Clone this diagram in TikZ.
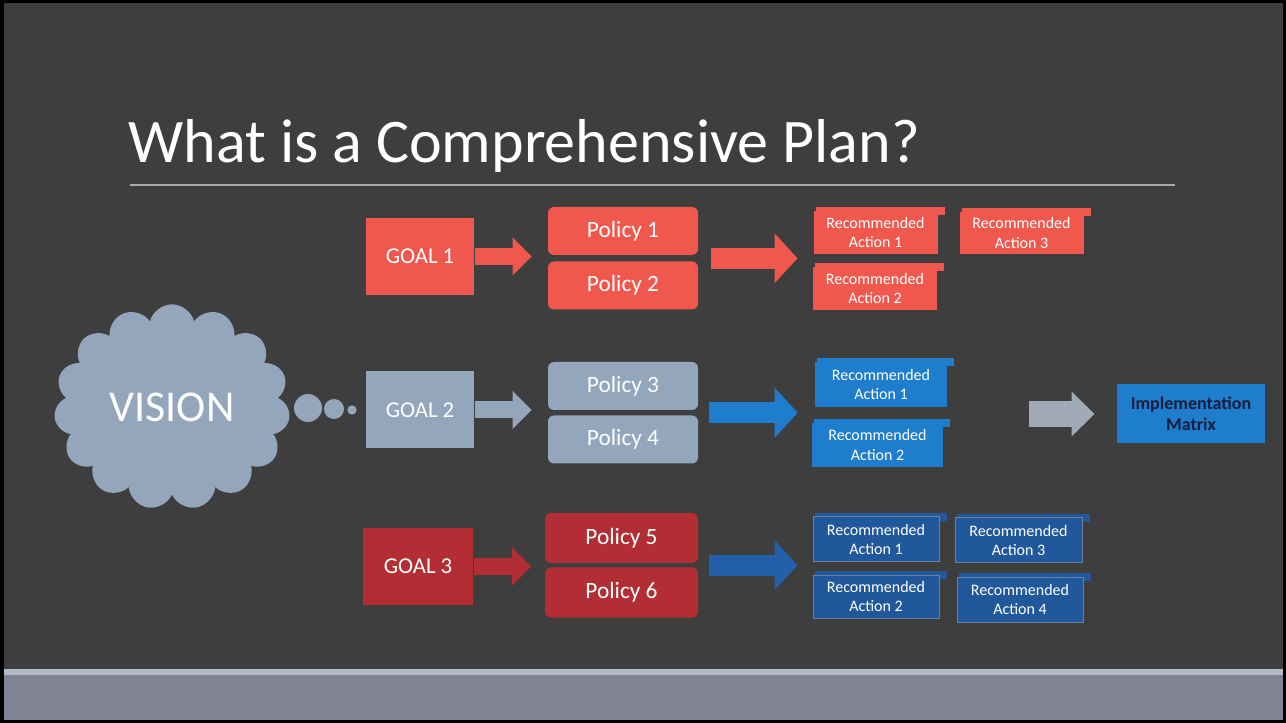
\documentclass[tikz,border=0pt]{standalone}
\usepackage{fontspec}
\setmainfont{Carlito}
\usetikzlibrary{shapes.symbols,arrows.meta,calc}

\definecolor{slidebg}{RGB}{62,62,62}
\definecolor{bandgray}{RGB}{128,131,148}
\definecolor{bandline}{RGB}{178,186,196}
\definecolor{ruleline}{RGB}{168,168,168}
\definecolor{goalred}{RGB}{240,88,78}
\definecolor{goalsteel}{RGB}{148,166,188}
\definecolor{goaldark}{RGB}{178,46,52}
\definecolor{actblue}{RGB}{30,125,205}
\definecolor{actnavy}{RGB}{32,88,155}
\definecolor{navyedge}{RGB}{110,130,160}
\definecolor{arrownavy}{RGB}{35,95,170}
\definecolor{arrowgray}{RGB}{160,170,182}
\definecolor{matrixtext}{RGB}{20,30,60}

\tikzset{every picture/.style={line width=0.75pt}}
\tikzset{
  goalbox/.style={rectangle, minimum width=81pt, minimum height=57.75pt, inner sep=0pt,
    text=white, font=\fontsize{17}{20}\selectfont},
  polbox/.style={rectangle, rounded corners=4.5pt, minimum width=112.5pt, minimum height=36pt,
    inner sep=0pt, text=white, font=\fontsize{17.5}{20}\selectfont},
  actbox/.style={rectangle, minimum width=93pt, minimum height=32pt, inner sep=0pt,
    align=center, text=white, font=\fontsize{12}{14.5}\selectfont},
  smallarrow/.style={line width=12.75pt, -{Triangle[length=14.25pt,width=28.5pt,line width=0pt]}},
  bigarrow/.style={line width=15.75pt, -{Triangle[length=17.25pt,width=37.5pt,line width=0pt]}},
  grayarrow/.style={line width=19.5pt, arrowgray, -{Triangle[length=17.25pt,width=33.75pt,line width=0pt]}},
  bubble/.style={circle, fill=goalsteel, inner sep=0pt}
}

\begin{document}
\begin{tikzpicture}[x=0.75pt,y=0.75pt,yscale=-1,xscale=1]
%Slide background
\fill[black] (0,0) rectangle (1286,723);
\fill[slidebg] (4,3) rectangle (1283,720);
\fill[bandgray] (4,669) rectangle (1283,720);
\fill[bandline] (4,669) rectangle (1283,675);

% Title
\node (title) [anchor=base west, inner sep=0pt, text=white, font=\fontsize{46.5}{50}\selectfont] at (128,163) {What is a Comprehensive Plan?};
\draw[ruleline, line width=1.5pt] (130,185) -- (1175,185);

%Vision cloud and bubbles
\node (vision) [cloud, cloud puffs=15, aspect=1.1, fill=goalsteel, minimum width=177pt, minimum height=154pt,
  inner sep=0pt, text=white, font=\fontsize{33}{36}\selectfont] at (172,407) {VISION};
\node (b1) [bubble, minimum size=21pt] at (308,408) {};
\node (b2) [bubble, minimum size=15pt] at (334,409) {};
\node (b3) [bubble, minimum size=7pt] at (352,410) {};

%Goals
\node (g1) [goalbox, fill=goalred] at (420,256.5) {GOAL 1};
\node (g2) [goalbox, fill=goalsteel] at (420,410) {GOAL 2};
\node (g3) [goalbox, fill=goaldark, minimum width=83pt] at (418,566.5) {GOAL 3};

%Policies
\node (p1) [polbox, fill=goalred] at (623,231) {Policy 1};
\node (p2) [polbox, fill=goalred] at (623,285.5) {Policy 2};
\node (p3) [polbox, fill=goalsteel] at (623,386) {Policy 3};
\node (p4) [polbox, fill=goalsteel] at (623,439.5) {Policy 4};
\node (p5) [polbox, fill=goaldark, minimum width=114.75pt, minimum height=37.5pt] at (621.5,538) {Policy 5};
\node (p6) [polbox, fill=goaldark, minimum width=114.75pt, minimum height=37.5pt] at (621.5,592.5) {Policy 6};

%Scroll rims (behind the action boxes)
\fill[goalred] (816,207) rectangle (945,215);
\fill[goalred] (815,263) rectangle (944,271);
\fill[goalred] (962,208) rectangle (1091,216);
\fill[actblue] (817,358) rectangle (954,366);
\fill[actblue] (814,419) rectangle (950,427);
\fill[actnavy] (815,513) rectangle (947,521);
\fill[actnavy] (815,571) rectangle (947,579);
\fill[actnavy] (957,514) rectangle (1090,522);
\fill[actnavy] (959,573) rectangle (1091,581);

%Recommended actions, goal 1
\node (ra1) [actbox, fill=goalred] at (875.5,232.5) {Recommended\\Action 1};
\node (ra2) [actbox, fill=goalred] at (875,288.5) {Recommended\\Action 2};
\node (ra3) [actbox, fill=goalred] at (1021.5,233) {Recommended\\Action 3};
%Recommended actions, goal 2
\node (ba1) [actbox, fill=actblue, minimum width=99pt, minimum height=34pt] at (881,384.5) {Recommended\\Action 1};
\node (ba2) [actbox, fill=actblue, minimum width=98pt, minimum height=33pt] at (877.5,445) {Recommended\\Action 2};
%Recommended actions, goal 3
\node (da1) [actbox, fill=actnavy, draw=navyedge, minimum width=94.5pt, minimum height=33.75pt] at (876,539.5) {Recommended\\Action 1};
\node (da2) [actbox, fill=actnavy, draw=navyedge, minimum width=94.5pt, minimum height=32.25pt] at (876,596.5) {Recommended\\Action 2};
\node (da3) [actbox, fill=actnavy, draw=navyedge, minimum width=95.25pt, minimum height=33.75pt] at (1018.5,540.5) {Recommended\\Action 3};
\node (da4) [actbox, fill=actnavy, draw=navyedge, minimum width=94.5pt, minimum height=33.75pt] at (1020,599.5) {Recommended\\Action 4};

%Implementation matrix
\node (impl) [rectangle, fill=actblue, minimum width=111pt, minimum height=44.25pt, inner sep=0pt,
  align=center, text=matrixtext, font=\bfseries\fontsize{13.5}{16}\selectfont] at (1191,414) {Implementation\\Matrix};

%Goal to policy arrows
\draw[smallarrow, goalred, shorten >=12pt] (g1.east) -- (g1.east -| p1.west);
\draw[smallarrow, goalsteel, shorten >=12pt] (g2.east) -- (g2.east -| p3.west);
\draw[smallarrow, goaldark, shorten >=10pt] (g3.east) -- (g3.east -| p5.west);

%Policy to action arrows
\coordinate (pm1) at ($(p1.south east)!0.5!(p2.north east)$);
\coordinate (pm2) at ($(p3.south east)!0.5!(p4.north east)$);
\coordinate (pm3) at ($(p5.south east)!0.5!(p6.north east)$);
\draw[bigarrow, goalred, shorten <=9pt, shorten >=11.25pt] (pm1) -- (pm1 -| ra2.west);
\draw[bigarrow, actblue, shorten <=7.5pt, shorten >=10.5pt] (pm2) -- (pm2 -| ba2.west);
\draw[bigarrow, arrownavy, shorten <=7.5pt, shorten >=11.25pt] (pm3) -- (pm3 -| da1.west);

%Actions to matrix
\draw[grayarrow, shorten <=60.75pt, shorten >=16.5pt] (ba1.east |- impl.west) -- (impl.west);

\end{tikzpicture}
\end{document}
